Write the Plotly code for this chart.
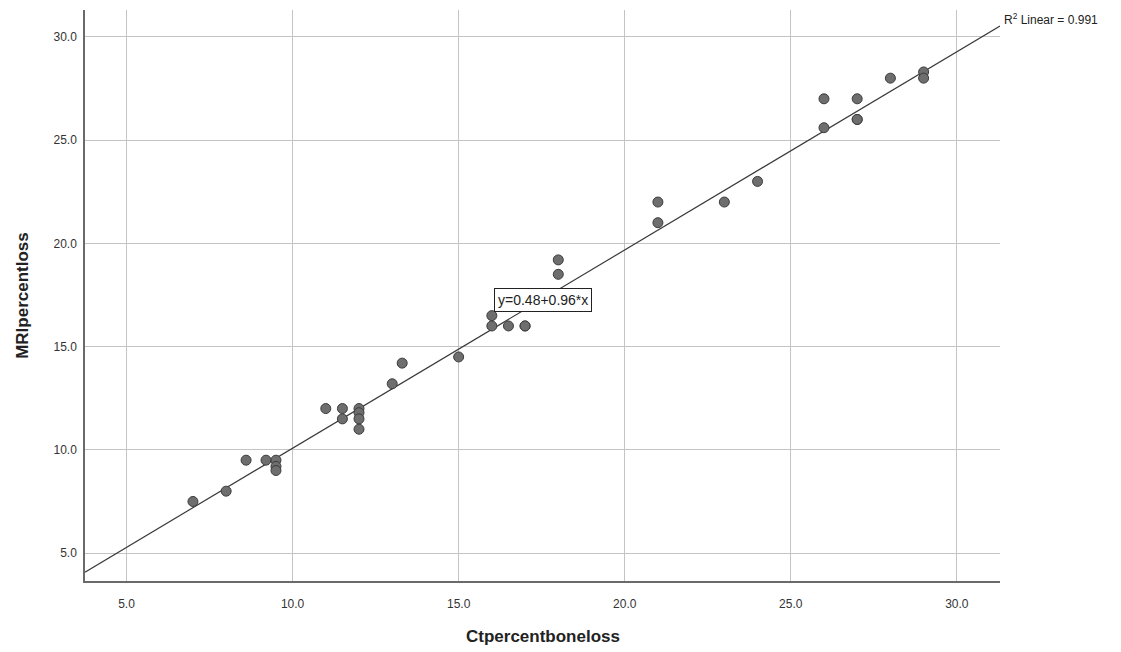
import plotly.graph_objects as go
import numpy as np

# Data
ct_loss = [7, 8, 8.6, 9.2, 9.5, 9.5, 9.5, 11, 11.5, 11.5, 12, 12, 12, 12, 13, 13.3, 15,
           16, 16, 16.5, 17, 17, 18, 18, 21, 21, 23, 24, 26, 26, 27, 27, 27, 28, 29, 29]
mri_loss = [7.5, 8, 9.5, 9.5, 9.5, 9.2, 9.0, 12, 12, 11.5, 12, 11.8, 11.5, 11, 13.2, 14.2, 14.5,
            16, 16.5, 16, 16, 16, 18.5, 19.2, 22, 21, 22, 23, 27, 25.6, 27, 26, 26, 28, 28.3, 28]
intercept = 0.48
slope = 0.96
r_squared = 0.991
x_ticks = [5, 10, 15, 20, 25, 30]
y_ticks = [5, 10, 15, 20, 25, 30]
x_range = [3.75, 31.3]
y_range = [3.65, 31.3]

fig = go.Figure()

lx = np.array(x_range)
fig.add_trace(go.Scatter(x=lx, y=intercept + slope * lx, mode="lines",
                         line=dict(color="#3a3a3a", width=1.2), hoverinfo="skip",
                         showlegend=False, cliponaxis=True))

fig.add_trace(go.Scatter(x=ct_loss, y=mri_loss, mode="markers",
                         marker=dict(size=10, color="#6e6e6e",
                                     line=dict(color="#3c3c3c", width=1)),
                         showlegend=False))

font_family = "Liberation Sans, Arial, sans-serif"

fig.update_layout(
    width=1121, height=652,
    margin=dict(l=77, r=129, t=2, b=79),
    plot_bgcolor="white", paper_bgcolor="white",
    font=dict(family=font_family, color="#333333", size=12),
    xaxis=dict(range=x_range, tickvals=x_ticks, ticktext=[f"{v:.1f}" for v in x_ticks],
               showgrid=True, gridcolor="#c4c4c4", gridwidth=1,
               showline=True, linecolor="#6a6a6a", linewidth=1.5,
               zeroline=False, ticks="", ticklabelstandoff=11,
               tickfont=dict(size=12, color="#333333")),
    yaxis=dict(range=y_range, tickvals=y_ticks, ticktext=[f"{v:.1f}" for v in y_ticks],
               showgrid=True, gridcolor="#c4c4c4", gridwidth=1,
               showline=True, linecolor="#6a6a6a", linewidth=1.5,
               zeroline=False, ticks="", ticklabelstandoff=4,
               tickfont=dict(size=12, color="#333333")),
    annotations=[
        dict(text="<b>Ctpercentboneloss</b>", xref="paper", yref="paper",
             x=0.5, y=-0.098, xanchor="center", yanchor="middle", showarrow=False,
             font=dict(size=17, color="#222222")),
        dict(text="<b>MRIpercentloss</b>", xref="paper", yref="paper",
             x=-0.0685, y=0.5, xanchor="center", yanchor="middle", showarrow=False,
             textangle=-90, font=dict(size=17, color="#222222")),
        dict(text=f"y={intercept}+{slope}*x", x=17.55, y=17.25, xref="x", yref="y",
             showarrow=False, bgcolor="white", bordercolor="#222222", borderwidth=1,
             borderpad=3, font=dict(size=14, color="#222222")),
        dict(text=f"R<sup>2</sup> Linear = {r_squared}", xref="paper", yref="paper",
             x=1.002, y=0.985, xanchor="left", yanchor="middle", showarrow=False,
             font=dict(size=12, color="#222222")),
    ],
)

fig.write_html("out.html")
